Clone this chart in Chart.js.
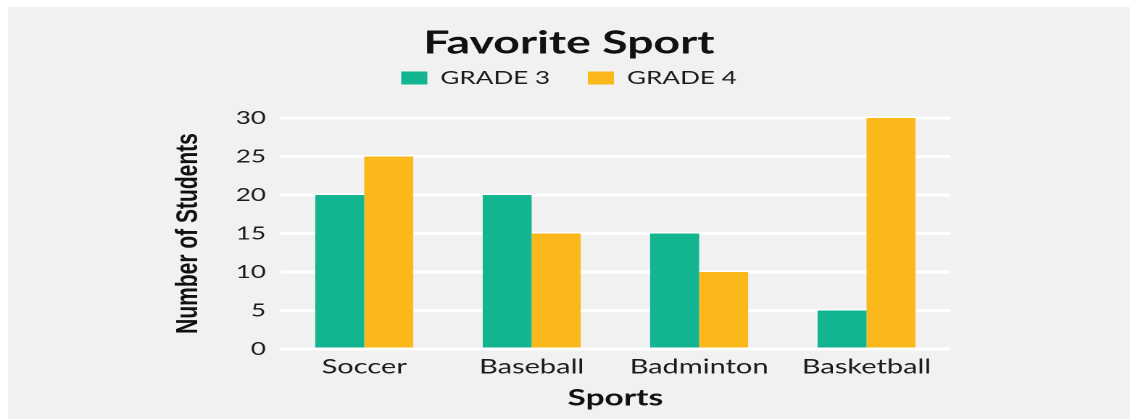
<!DOCTYPE html>
<html lang="en">
<head>
<meta charset="UTF-8">
<title>Favorite Sport</title>
<script src="https://cdn.jsdelivr.net/npm/chart.js@4.4.4/dist/chart.umd.min.js"></script>
<style>
  html, body { margin: 0; padding: 0; background: #fff; }
  /* grey card, the picture is a bit wider than the chart so stretch it */
  #panel { position: absolute; left: 8px; top: 7px; width: 1122px; height: 412px; background: #f0f1f0; overflow: hidden; }
  #stretch { width: 774px; height: 412px; transform: scaleX(1.4496); transform-origin: 0 0; }
</style>
</head>
<body>
<div id="panel">
  <div id="stretch"><canvas id="sport-chart" width="774" height="412"></canvas></div>
</div>

<script>
// data
const sports = ['Soccer', 'Baseball', 'Badminton', 'Basketball'];
const grade3 = [20, 20, 15, 5];
const grade4 = [25, 15, 10, 30];
const yTicks = [0, 5, 10, 15, 20, 25, 30];

const GREEN = '#13b590';
const ORANGE = '#fbb81b';
const TEXT = '#1c1c1c';

// push the plot down a little under the legend
const legendGap = {
  id: 'legendGap',
  beforeInit(chart) {
    const originalFit = chart.legend.fit;
    chart.legend.fit = function fit() {
      originalFit.bind(chart.legend)();
      this.height += 21;
    };
  }
};

new Chart(document.getElementById('sport-chart'), {
  type: 'bar',
  data: {
    labels: sports,
    datasets: [
      { label: 'GRADE 3', data: grade3, backgroundColor: GREEN, borderWidth: 0, categoryPercentage: 0.585, barPercentage: 1 },
      { label: 'GRADE 4', data: grade4, backgroundColor: ORANGE, borderWidth: 0, categoryPercentage: 0.585, barPercentage: 1 }
    ]
  },
  options: {
    responsive: false,
    devicePixelRatio: 2,
    animation: false,
    layout: { padding: 0 },
    plugins: {
      title: {
        display: true,
        text: 'Favorite Sport',
        color: '#111',
        font: { family: 'Lato', size: 32, weight: 'bold', lineHeight: 1 },
        padding: { top: 20, bottom: -16 }
      },
      legend: {
        labels: {
          boxWidth: 18,
          boxHeight: 13,
          padding: 26,
          color: TEXT,
          font: { family: 'Lato', size: 18 }
        }
      },
      tooltip: { enabled: false }
    },
    scales: {
      x: {
        grid: { display: false, drawTicks: false },
        border: { display: false },
        ticks: { color: TEXT, padding: 6, font: { family: 'Lato', size: 20 } },
        title: {
          display: true,
          text: 'Sports',
          color: '#111',
          font: { family: 'Lato', size: 23, weight: 'bold' },
          padding: { top: 0, bottom: 7 }
        },
        afterFit(scale) { scale.height = 70; }
      },
      y: {
        min: yTicks[0],
        max: yTicks[yTicks.length - 1],
        ticks: { stepSize: yTicks[1] - yTicks[0], padding: 10, color: TEXT, font: { family: 'Lato', size: 18 } },
        grid: { color: '#ffffff', lineWidth: 3, drawTicks: false },
        border: { display: false },
        title: {
          display: true,
          text: 'Number of Students',
          color: '#111',
          font: { family: 'Liberation Sans', size: 21, weight: 'bold' },
          padding: { top: 112, bottom: 0 }
        },
        afterFit(scale) { scale.width = 188; }
      },
      // empty axis on the right, only keeps the plot off the right edge
      yRight: {
        position: 'right',
        grid: { display: false },
        border: { display: false },
        ticks: { display: false },
        afterFit(scale) { scale.width = 124; }
      }
    }
  },
  plugins: [legendGap]
});
</script>
</body>
</html>
